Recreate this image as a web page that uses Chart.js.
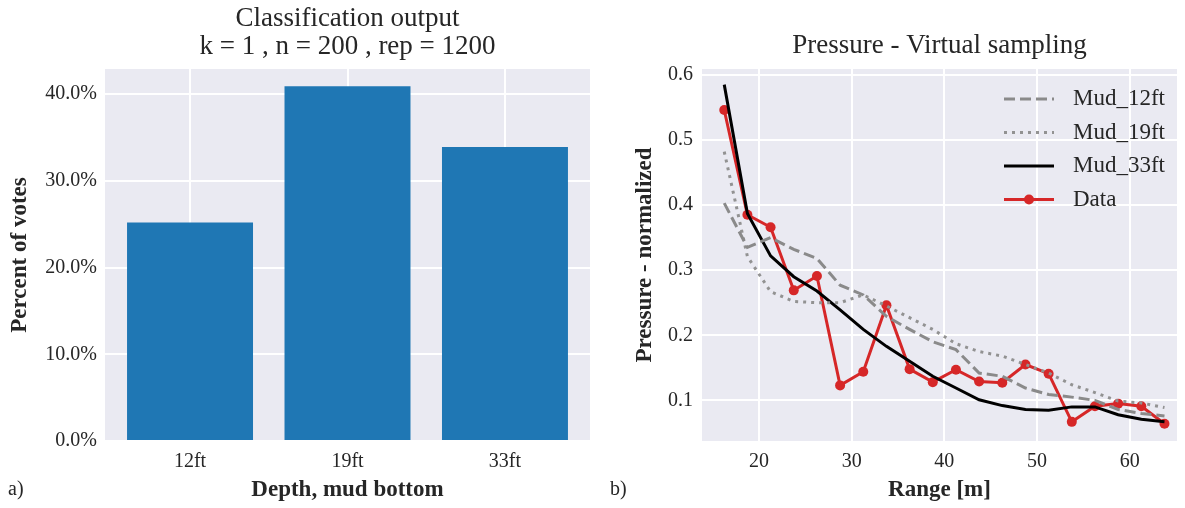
<!DOCTYPE html>
<html>
<head>
<meta charset="utf-8">
<script src="https://cdn.jsdelivr.net/npm/chart.js@4.4.1/dist/chart.umd.min.js"></script>
<style>
  body { margin: 0; background: #fff; }
  #wrap { position: relative; width: 1185px; height: 508px; }
  canvas { position: absolute; top: 0; }
</style>
</head>
<body>
<div id="wrap">
  <canvas id="votes" width="600" height="508" style="left:0"></canvas>
  <canvas id="pressure" width="585" height="508" style="left:600px"></canvas>
</div>
<script>
// a) classification output
const depthLabels = ['12ft', '19ft', '33ft'];
const votePercent = [25.2, 40.9, 33.9];
const voteTicks = [0, 10, 20, 30, 40];

// b) pressure vs range (normalized)
const rangeM = [16.25, 18.75, 21.25, 23.75, 26.25, 28.75, 31.25, 33.75, 36.25, 38.75,
                41.25, 43.75, 46.25, 48.75, 51.25, 53.75, 56.25, 58.75, 61.25, 63.75];
const mud12 = [0.403, 0.335, 0.350, 0.332, 0.318, 0.277, 0.262, 0.229, 0.209, 0.190,
               0.178, 0.142, 0.137, 0.119, 0.109, 0.105, 0.100, 0.086, 0.080, 0.076];
const mud19 = [0.482, 0.321, 0.267, 0.252, 0.250, 0.250, 0.262, 0.245, 0.227, 0.209,
               0.187, 0.175, 0.168, 0.155, 0.142, 0.124, 0.112, 0.099, 0.096, 0.089];
const mud33 = [0.585, 0.387, 0.322, 0.290, 0.268, 0.239, 0.209, 0.183, 0.160, 0.137,
               0.119, 0.101, 0.092, 0.086, 0.085, 0.090, 0.090, 0.078, 0.071, 0.067];
const measured = [0.546, 0.385, 0.366, 0.269, 0.291, 0.123, 0.144, 0.246, 0.148, 0.128,
                  0.147, 0.129, 0.127, 0.155, 0.141, 0.067, 0.091, 0.095, 0.091, 0.064];

const FONT = "'Liberation Serif', 'DejaVu Serif', serif";
const INK = '#262626';
const FACE = '#eaeaf2';

// seaborn-like face, titles, axis labels and panel tag
const panelDeco = {
  id: 'panelDeco',
  beforeDraw(chart) {
    const { ctx, chartArea: a } = chart;
    ctx.save();
    ctx.fillStyle = FACE;
    ctx.fillRect(a.left, a.top, a.right - a.left, a.bottom - a.top);
    ctx.restore();
  },
  afterDraw(chart, args, opts) {
    const { ctx, chartArea: a } = chart;
    const cx = (a.left + a.right) / 2;
    const cy = (a.top + a.bottom) / 2;
    ctx.save();
    ctx.fillStyle = INK;
    ctx.textAlign = 'center';
    ctx.textBaseline = 'middle';
    ctx.font = `27px ${FONT}`;
    opts.title.forEach((line, i) => ctx.fillText(line, cx, opts.titleY[i]));

    ctx.font = `bold 23px ${FONT}`;
    ctx.fillText(opts.xTitle, cx, 490);
    ctx.save();
    ctx.translate(opts.yTitleX, cy);
    ctx.rotate(-Math.PI / 2);
    ctx.fillText(opts.yTitle, 0, 0);
    ctx.restore();

    ctx.font = `20px ${FONT}`;
    ctx.textAlign = 'left';
    ctx.fillText(opts.tag, opts.tagX, 490);
    ctx.restore();
  }
};

// legend with line samples (dash + marker) like matplotlib
const lineLegend = {
  id: 'lineLegend',
  afterDatasetsDraw(chart) {
    const { ctx, chartArea: a } = chart;
    const x0 = a.right - 173, x1 = a.right - 123;
    ctx.save();
    chart.data.datasets.forEach((ds, i) => {
      const y = 99 + i * 33.5;
      ctx.strokeStyle = ds.borderColor;
      ctx.lineWidth = ds.borderWidth;
      ctx.setLineDash(ds.borderDash || []);
      ctx.beginPath();
      ctx.moveTo(x0, y);
      ctx.lineTo(x1, y);
      ctx.stroke();
      if (ds.pointRadius > 0) {
        ctx.setLineDash([]);
        ctx.fillStyle = ds.pointBackgroundColor;
        ctx.beginPath();
        ctx.arc((x0 + x1) / 2, y, ds.pointRadius, 0, Math.PI * 2);
        ctx.fill();
      }
      ctx.fillStyle = INK;
      ctx.font = `23px ${FONT}`;
      ctx.textAlign = 'left';
      ctx.textBaseline = 'middle';
      ctx.fillText(ds.label, x1 + 19, y);
    });
    ctx.restore();
  }
};

const tickFont = { family: FONT, size: 20 };

new Chart(document.getElementById('votes'), {
  type: 'bar',
  data: {
    datasets: [{
      data: votePercent.map((v, i) => ({ x: i, y: v })),
      backgroundColor: '#1f77b4',
      barPercentage: 0.8,
      categoryPercentage: 1.0
    }]
  },
  options: {
    responsive: false,
    animation: false,
    layout: { padding: { top: 69, right: 10, left: 0, bottom: 0 } },
    plugins: {
      legend: { display: false },
      tooltip: { enabled: false },
      panelDeco: {
        title: ['Classification output', 'k = 1 , n = 200 , rep = 1200'],
        titleY: [19, 47],
        xTitle: 'Depth, mud bottom',
        yTitle: 'Percent of votes',
        yTitleX: 20,
        tag: 'a)', tagX: 8
      }
    },
    scales: {
      x: {
        type: 'linear',
        min: -0.54, max: 2.54,
        offset: false,
        grid: { color: '#ffffff', lineWidth: 2, drawTicks: false, offset: false },
        border: { display: false },
        ticks: { stepSize: 1, includeBounds: false, font: tickFont, color: INK, padding: 9,
                 callback: v => depthLabels[v] },
        afterFit: s => { s.height = 67; }
      },
      y: {
        min: 0, max: 42.9,
        grid: { color: '#ffffff', lineWidth: 2, drawTicks: false },
        border: { display: false },
        afterBuildTicks: s => { s.ticks = voteTicks.map(v => ({ value: v })); },
        ticks: { font: tickFont, color: INK, padding: 8, callback: v => v.toFixed(1) + '%' },
        afterFit: s => { s.width = 105; }
      }
    }
  },
  plugins: [panelDeco]
});

new Chart(document.getElementById('pressure'), {
  type: 'line',
  data: {
    datasets: [
      { label: 'Mud_12ft', data: rangeM.map((x, i) => ({ x, y: mud12[i] })),
        borderColor: '#8a8a8a', borderWidth: 3, borderDash: [11, 5], pointRadius: 0 },
      { label: 'Mud_19ft', data: rangeM.map((x, i) => ({ x, y: mud19[i] })),
        borderColor: '#929292', borderWidth: 3, borderDash: [3, 5], pointRadius: 0 },
      { label: 'Mud_33ft', data: rangeM.map((x, i) => ({ x, y: mud33[i] })),
        borderColor: '#000000', borderWidth: 3, pointRadius: 0 },
      { label: 'Data', data: rangeM.map((x, i) => ({ x, y: measured[i] })),
        borderColor: '#d62728', borderWidth: 3, pointRadius: 5,
        pointBackgroundColor: '#d62728', pointBorderWidth: 0 }
    ]
  },
  options: {
    responsive: false,
    animation: false,
    layout: { padding: { top: 69, right: 8, left: 0, bottom: 0 } },
    plugins: {
      legend: { display: false },
      tooltip: { enabled: false },
      panelDeco: {
        title: ['Pressure - Virtual sampling'],
        titleY: [46],
        xTitle: 'Range [m]',
        yTitle: 'Pressure - normalized',
        yTitleX: 45,
        tag: 'b)', tagX: 10
      }
    },
    scales: {
      x: {
        type: 'linear',
        min: 13.85, max: 65.1,
        grid: { color: '#ffffff', lineWidth: 2, drawTicks: false },
        border: { display: false },
        ticks: { stepSize: 10, includeBounds: false, font: tickFont, color: INK, padding: 9 },
        afterFit: s => { s.height = 67; }
      },
      y: {
        min: 0.0376, max: 0.609,
        grid: { color: '#ffffff', lineWidth: 2, drawTicks: false },
        border: { display: false },
        ticks: { stepSize: 0.1, includeBounds: false, font: tickFont, color: INK, padding: 9,
                 callback: v => v.toFixed(1) },
        afterFit: s => { s.width = 102; }
      }
    }
  },
  plugins: [panelDeco, lineLegend]
});
</script>
</body>
</html>
